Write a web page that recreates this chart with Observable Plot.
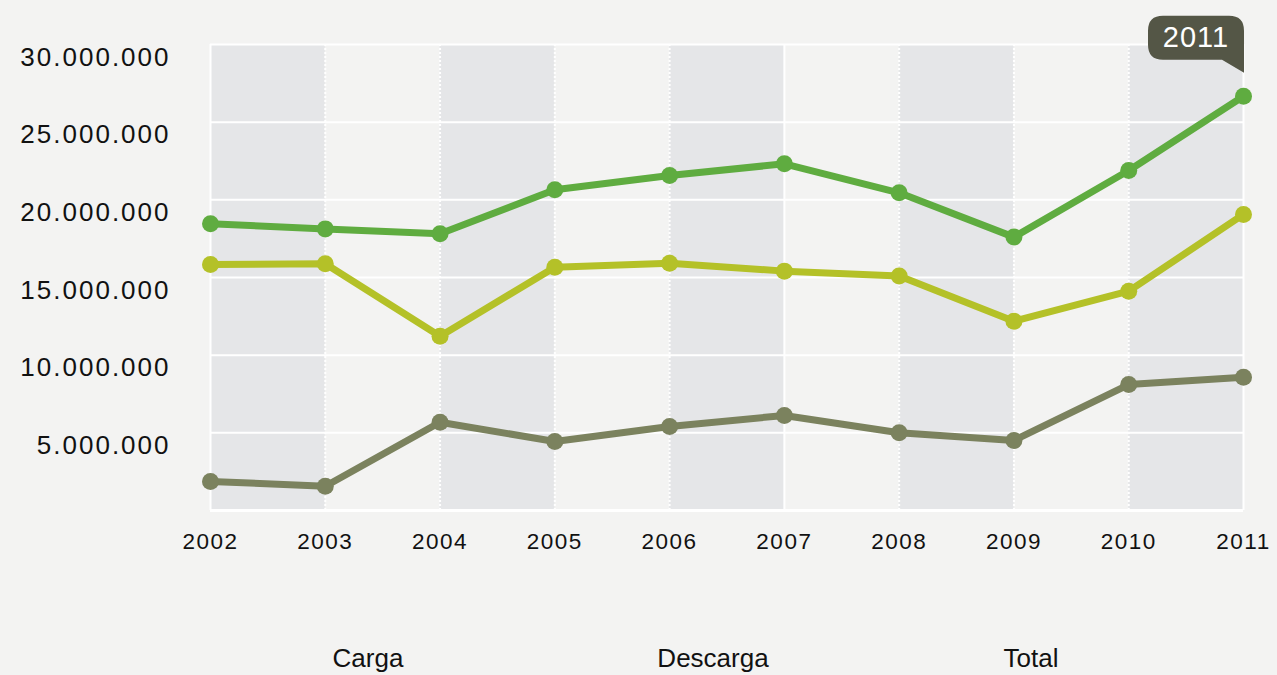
<!DOCTYPE html>
<html>
<head>
<meta charset="utf-8">
<script src="https://cdn.jsdelivr.net/npm/d3@7"></script>
<script src="https://cdn.jsdelivr.net/npm/@observablehq/plot@0.6"></script>
<style>
  html, body { margin: 0; padding: 0; background: #f3f3f2; }
  #wrap { position: relative; width: 1277px; height: 675px; overflow: hidden; }
  g[aria-label="x-axis tick label"] text { letter-spacing: 1.5px; }
  g[aria-label="y-axis tick label"] text { letter-spacing: 2px; }
  .leg { position: absolute; top: 645px; font-family: "Liberation Sans", Arial, sans-serif;
         font-size: 26px; line-height: 26px; color: #111; transform: translateX(-50%); white-space: nowrap; }
</style>
</head>
<body>
<div id="wrap"></div>
<script>
const years = [2002, 2003, 2004, 2005, 2006, 2007, 2008, 2009, 2010, 2011];
const carga    = [1870000, 1560000, 5680000, 4440000, 5410000, 6120000, 5000000, 4510000, 8110000, 8580000];
const descarga = [15840000, 15880000, 11220000, 15660000, 15920000, 15410000, 15100000, 12190000, 14120000, 19060000];
const total    = [18460000, 18130000, 17810000, 20650000, 21570000, 22320000, 20450000, 17600000, 21890000, 26670000];
const seriesNames = ["Carga", "Descarga", "Total"];
const seriesColors = ["#7b825e", "#b4c128", "#5fac40"];
const yTicks = [5000000, 10000000, 15000000, 20000000, 25000000, 30000000];
const tooltipLabel = "2011";

const seriesValues = [carga, descarga, total];
const rows = seriesNames.flatMap((name, s) =>
  years.map((year, i) => ({series: name, year, value: seriesValues[s][i]})));
const bandStarts = years.filter((d, i) => i % 2 === 0 && i < years.length - 1);
const solidYears = [years[0], 2007, years[years.length - 1]];
const dottedYears = years.filter(y => !solidYears.includes(y));

const fmt = d3.formatLocale({thousands: ".", decimal: ",", grouping: [3], currency: ["", ""]}).format(",");
const tipRow = {year: 2011, value: total[total.length - 1]};

function tooltip(index, scales) {
  const tx = scales.x(tipRow.year);
  const ty = scales.y(tipRow.value) - 23;
  const L = tx - 95, T = ty - 57, B = ty - 13, R = tx + 1, r = 15, k = tx - 21;
  const g = d3.create("svg:g");
  g.append("path")
    .attr("fill", "#545646")
    .attr("d", `M${L + r},${T} H${R - r} Q${R},${T} ${R},${T + r} V${ty} L${k},${B} H${L + r} Q${L},${B} ${L},${B - r} V${T + r} Q${L},${T} ${L + r},${T} Z`);
  g.append("text")
    .attr("x", tx - 47).attr("y", ty - 26)
    .attr("text-anchor", "middle")
    .attr("fill", "white")
    .attr("font-family", "Liberation Sans, Arial, sans-serif")
    .attr("font-size", 29)
    .attr("letter-spacing", "1px")
    .text(tooltipLabel);
  return g.node();
}

const chart = Plot.plot({
  width: 1277,
  height: 620,
  marginLeft: 210,
  marginRight: 34,
  marginTop: 44,
  marginBottom: 110,
  style: {background: "#f3f3f2", fontFamily: "Liberation Sans, Arial, sans-serif", color: "#111", overflow: "visible"},
  x: {domain: [years[0], years[years.length - 1]], label: null},
  y: {domain: [0, 30000000], label: null},
  marks: [
    Plot.rectX(bandStarts, {x1: d => d, x2: d => d + 1, y1: 0, y2: 30000000, fill: "#e5e6e8"}),
    Plot.ruleY(yTicks, {y: d => d, stroke: "white", strokeWidth: 2}),
    Plot.ruleX(dottedYears, {x: d => d, y1: 0, y2: 30000000, stroke: "white", strokeWidth: 2, strokeDasharray: "2,2"}),
    Plot.ruleX(solidYears, {x: d => d, y1: 0, y2: 30000000, stroke: "white", strokeWidth: 2}),
    Plot.ruleY([0], {stroke: "white", strokeWidth: 3}),
    Plot.axisX(years, {label: null, tickSize: 0, tickPadding: 23, fontSize: 22.5, tickFormat: d => String(d), fill: "#111"}),
    Plot.axisY(yTicks, {label: null, tickSize: 0, tickPadding: 40, dy: 13, fontSize: 26, tickFormat: fmt, fill: "#111"}),
    Plot.line(rows, {x: "year", y: "value", z: "series", stroke: d => seriesColors[seriesNames.indexOf(d.series)], strokeWidth: 7, strokeLinejoin: "round"}),
    Plot.dot(rows, {x: "year", y: "value", r: 8.5, fill: d => seriesColors[seriesNames.indexOf(d.series)], stroke: "none"}),
    tooltip
  ]
});

const wrap = document.getElementById("wrap");
wrap.appendChild(chart);
const legendCenters = [368, 713, 1031];
seriesNames.forEach((name, i) => {
  const s = document.createElement("span");
  s.className = "leg";
  s.style.left = legendCenters[i] + "px";
  s.textContent = name;
  wrap.appendChild(s);
});
</script>
</body>
</html>
